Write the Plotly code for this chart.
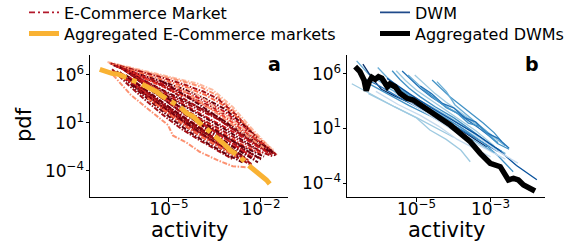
import plotly.graph_objects as go

# ---------------- data (log10 values) ----------------
# Panel a: individual E-Commerce markets (log10 activity, log10 pdf)
ecom_logx = [
    [-7.0, -6.2, -5.4, -4.6, -4.06, -3.57, -2.92, -2.26, -1.48],
    [-6.95, -6.1, -5.3, -4.5, -4.0, -3.5, -2.9, -2.3, -1.55],
    [-6.9, -6.1, -5.3, -4.5, -3.9, -3.4, -2.8, -2.2, -1.6],
    [-6.85, -6.0, -5.2, -4.4, -3.8, -3.3, -2.7, -2.1, -1.7],
    [-6.8, -6.0, -5.2, -4.4, -3.8, -3.2, -2.6, -2.0, -1.5],
    [-6.75, -5.9, -5.1, -4.3, -3.7, -3.1, -2.5, -1.9],
    [-6.7, -5.9, -5.1, -4.3, -3.6, -3.0, -2.4, -1.8, -1.5],
    [-6.65, -5.8, -5.0, -4.2, -3.5, -2.9, -2.3, -1.75],
    [-6.6, -5.8, -5.0, -4.2, -3.5, -2.8, -2.2, -1.6],
    [-6.55, -5.7, -4.9, -4.1, -3.4, -2.8, -2.2, -1.65],
    [-6.5, -5.7, -4.9, -4.1, -3.4, -2.7, -2.1, -1.7],
    [-6.45, -5.6, -4.8, -4.0, -3.3, -2.7, -2.1],
    [-6.4, -5.6, -4.8, -4.0, -3.3, -2.6, -2.0, -1.6],
    [-6.35, -5.5, -4.7, -3.9, -3.2, -2.6, -2.0],
    [-6.3, -5.5, -4.7, -3.9, -3.2, -2.5, -1.9],
    [-6.25, -5.4, -4.6, -3.8, -3.1, -2.5, -2.0],
    [-6.85, -6.3, -5.7, -5.1, -4.6, -4.0, -3.4, -2.9],
    [-6.82, -6.24, -5.68, -5.03, -4.87, -4.4, -4.0, -3.4, -2.92, -2.5],
    [-6.7, -6.1, -5.5, -4.9, -4.3, -3.7, -3.1, -2.6],
    [-6.6, -6.0, -5.4, -4.8, -4.2, -3.6, -3.0, -2.6, -2.3],
    [-6.5, -5.9, -5.3, -4.7, -4.1, -3.5, -2.9, -2.4],
    [-6.4, -5.8, -5.2, -4.6, -4.0, -3.4, -2.8],
    [-6.3, -5.7, -5.1, -4.5, -3.9, -3.3, -2.7, -2.2],
    [-5.6, -5.0, -4.4, -3.8, -3.2, -2.6, -2.0, -1.6],
    [-5.2, -4.6, -4.0, -3.4, -2.8, -2.2, -1.7],
    [-4.8, -4.3, -3.8, -3.3, -2.8, -2.3, -1.9],
    [-5.9, -5.3, -4.7, -4.1, -3.5, -2.9, -2.4],
    [-5.3, -4.7, -4.1, -3.5, -2.9, -2.4, -2.0],
    [-4.4, -3.9, -3.4, -2.9, -2.4, -1.9, -1.6],
    [-5.0, -4.5, -4.0, -3.5, -3.0, -2.6, -2.3],
    [-4.5, -4.0, -3.5, -3.0, -2.5, -2.1],
    [-6.6, -6.0, -5.4, -4.8, -4.2, -3.6, -3.0, -2.5],
    [-6.5, -5.9, -5.3, -4.7, -4.1, -3.5, -2.9, -2.4],
    [-6.4, -5.8, -5.2, -4.6, -4.0, -3.4, -2.8],
    [-6.2, -5.6, -5.0, -4.4, -3.8, -3.2, -2.7],
    [-6.0, -5.4, -4.8, -4.2, -3.6, -3.0],
    [-5.7, -5.1, -4.5, -3.9, -3.3, -2.8],
]
ecom_logy = [
    [7.35, 6.75, 6.15, 5.55, 5.1, 4.44, 2.67, 0.27, -2.33],
    [7.25, 6.6, 5.95, 5.3, 4.8, 4.0, 2.3, 0.0, -2.2],
    [7.2, 6.5, 5.8, 5.0, 4.3, 3.5, 1.8, -0.3, -2.0],
    [7.1, 6.3, 5.5, 4.7, 3.9, 3.0, 1.4, -0.5, -1.6],
    [7.0, 6.1, 5.3, 4.4, 3.5, 2.5, 0.9, -0.9, -2.5],
    [6.95, 5.95, 5.0, 4.0, 3.1, 2.0, 0.4, -1.3],
    [6.9, 5.8, 4.8, 3.7, 2.7, 1.5, 0.0, -1.5, -2.3],
    [6.85, 5.6, 4.5, 3.4, 2.3, 1.0, -0.4, -1.7],
    [6.8, 5.4, 4.1, 2.9, 1.8, 0.5, -0.8, -2.0],
    [6.7, 5.2, 3.8, 2.5, 1.4, 0.1, -1.2, -2.3],
    [6.6, 5.0, 3.6, 2.2, 1.0, -0.3, -1.5, -2.2],
    [6.5, 4.8, 3.3, 1.9, 0.6, -0.6, -1.8],
    [6.4, 4.6, 3.0, 1.5, 0.3, -1.0, -2.0, -2.5],
    [6.3, 4.4, 2.7, 1.2, -0.1, -1.3, -2.2],
    [6.2, 4.2, 2.4, 0.9, -0.4, -1.6, -2.5],
    [6.1, 4.0, 2.1, 0.6, -0.7, -1.9, -2.7],
    [6.6, 4.9, 3.2, 1.6, 0.4, -0.8, -1.9, -2.8],
    [6.0, 3.92, 2.46, 0.79, -0.3, -1.1, -2.0, -2.9, -3.5, -3.6],
    [6.4, 4.6, 3.0, 1.4, 0.0, -1.2, -2.3, -3.1],
    [6.3, 4.5, 2.9, 1.4, 0.1, -1.1, -2.2, -2.9, -3.4],
    [6.1, 4.5, 2.9, 1.5, 0.3, -0.9, -2.0, -2.9],
    [6.0, 4.4, 2.9, 1.5, 0.3, -0.9, -2.0],
    [5.8, 4.3, 2.9, 1.6, 0.4, -0.7, -1.8, -2.7],
    [5.6, 4.5, 3.3, 2.2, 1.0, -0.3, -1.5, -2.2],
    [5.3, 4.1, 2.9, 1.6, 0.3, -1.0, -2.0],
    [4.9, 3.9, 2.8, 1.7, 0.5, -0.7, -1.6],
    [5.5, 4.0, 2.6, 1.3, 0.1, -1.2, -2.3],
    [4.2, 2.8, 1.5, 0.3, -0.9, -2.0, -2.8],
    [4.6, 3.6, 2.4, 1.2, 0.0, -1.0, -1.8],
    [2.6, 1.5, 0.5, -0.6, -1.7, -2.6, -3.3],
    [2.0, 0.9, -0.2, -1.3, -2.3, -3.1],
    [6.2, 5.0, 3.6, 2.2, 0.9, -0.4, -1.6, -2.6],
    [5.9, 4.6, 3.2, 1.8, 0.5, -0.7, -1.9, -2.9],
    [5.6, 4.2, 2.7, 1.3, 0.0, -1.2, -2.4],
    [5.0, 3.6, 2.2, 0.9, -0.4, -1.6, -2.6],
    [4.5, 3.0, 1.6, 0.3, -0.9, -2.0],
    [3.6, 2.2, 0.8, -0.5, -1.6, -2.5],
]
ecom_colors = [
    "#fcbba1", "#fc9272", "#a50f15", "#fb6a4a", "#67000d", "#cb181d",
    "#a50f15", "#ef3b2c", "#67000d", "#a50f15", "#cb181d", "#67000d",
    "#a50f15", "#ef3b2c", "#67000d", "#a50f15", "#a50f15", "#fc9272",
    "#67000d", "#a50f15", "#fb6a4a", "#67000d", "#cb181d", "#a50f15",
    "#67000d", "#fc9272", "#cb181d", "#67000d", "#fcbba1", "#a50f15",
    "#67000d", "#67000d", "#a50f15", "#cb181d", "#67000d", "#a50f15",
    "#fb6a4a",
]
# Panel a: aggregated E-Commerce markets
ecom_agg_logx = [-7.25, -7.04, -6.86, -6.65, -6.49, -6.33, -6.16, -5.94, -5.73,
                 -5.40, -5.19, -4.91, -4.64, -4.42, -4.21, -3.99, -3.66, -3.45,
                 -3.23, -3.01, -2.69, -2.42, -2.14, -1.93, -1.82, -1.60]
ecom_agg_logy = [6.59, 6.36, 6.16, 6.07, 5.82, 5.66, 5.41, 5.14, 4.78,
                 4.26, 3.74, 3.22, 2.70, 2.01, 1.66, 0.97, 0.09, -0.43,
                 -1.11, -1.81, -2.51, -3.38, -4.07, -4.59, -4.94, -5.80]

# Panel b: individual DWMs
dwm_logx = [
    [-6.62, -6.3, -5.9, -5.4, -4.9, -4.4, -3.9, -3.4],
    [-6.45, -6.2, -5.95, -5.6, -5.2, -4.7, -4.1, -3.6, -3.1],
    [-6.75, -6.2, -5.6, -5.0, -4.5, -4.0],
    [-6.39, -5.8, -5.2, -4.6, -4.0, -3.5],
    [-6.48, -6.0, -5.5, -5.0, -4.5, -3.9, -3.3, -2.8],
    [-6.05, -5.8, -5.5, -5.1, -4.6, -4.1, -3.6, -3.1, -2.6],
    [-5.66, -5.45, -5.2, -4.9, -4.5, -4.0, -3.5, -3.0, -2.7],
    [-5.55, -5.3, -5.0, -4.7, -4.3, -3.9, -3.4, -2.9],
    [-5.39, -5.15, -4.9, -4.6, -4.2, -3.8, -3.3, -2.8],
    [-5.23, -5.0, -4.75, -4.45, -4.1, -3.7, -3.3, -2.9, -2.6],
    [-5.05, -4.8, -4.5, -4.2, -3.9, -3.6, -3.2, -2.8],
    [-4.58, -4.35, -4.1, -3.8, -3.5, -3.2, -2.9, -2.7],
    [-4.45, -4.2, -3.96, -3.7, -3.4, -3.1, -2.8],
    [-5.8, -5.2, -4.6, -4.0, -3.4, -2.8, -2.3, -1.75],
    [-5.9, -5.2, -4.5, -3.9, -3.3, -2.8, -2.26],
    [-5.7, -5.0, -4.4, -3.8, -3.2, -2.8, -2.39],
    [-6.3, -5.7, -5.0, -4.64, -4.2, -3.8, -3.55],
    [-6.1, -5.5, -4.9, -4.4, -3.9, -3.4, -3.0],
    [-5.6, -5.0, -4.5, -4.0, -3.5, -3.0, -2.6],
    [-5.9, -5.3, -4.7, -4.2, -3.7, -3.2, -2.9],
    [-4.9, -4.6, -4.3, -4.0, -3.7, -3.4, -3.1, -2.8, -2.5],
    [-4.8, -4.5, -4.2, -3.9, -3.6, -3.3, -3.0, -2.8, -2.5],
]
dwm_logy = [
    [7.2, 6.0, 5.1, 4.3, 3.4, 2.4, 1.3, 0.1],
    [6.9, 5.6, 4.6, 4.0, 3.4, 2.6, 1.5, 0.4, -0.7],
    [5.1, 4.1, 3.0, 2.0, 1.1, 0.2],
    [5.3, 4.2, 3.1, 2.1, 1.0, -0.1],
    [5.7, 4.9, 3.9, 3.0, 2.2, 1.1, -0.1, -1.1],
    [6.6, 5.7, 4.8, 3.9, 3.0, 2.0, 0.9, -0.3, -1.3],
    [6.3, 5.5, 4.7, 3.9, 3.0, 2.0, 0.8, -0.5, -1.1],
    [6.3, 5.4, 4.5, 3.8, 2.9, 2.0, 0.8, -0.6],
    [6.28, 5.5, 4.7, 3.9, 3.0, 2.2, 1.0, -0.3],
    [5.9, 5.2, 4.4, 3.6, 2.8, 2.1, 1.2, 0.2, -0.6],
    [5.9, 5.1, 4.2, 3.4, 2.7, 2.0, 1.0, -0.1],
    [5.45, 4.7, 3.9, 3.1, 2.3, 1.5, 0.6, -0.2],
    [5.3, 4.4, 3.16, 2.4, 1.6, 0.7, -0.4],
    [5.6, 4.2, 2.9, 1.7, 0.5, -0.9, -2.4, -3.7],
    [5.4, 4.0, 2.5, 1.3, 0.1, -1.1, -2.17],
    [5.1, 3.6, 2.3, 1.1, -0.3, -1.5, -2.96],
    [4.2, 3.2, 1.96, 0.86, 0.0, -1.0, -2.05],
    [4.4, 3.2, 2.2, 1.2, 0.0, -0.9, -1.6],
    [4.3, 3.0, 1.9, 0.8, -0.2, -1.1, -1.8],
    [5.0, 3.8, 2.6, 1.6, 0.4, -0.6, -1.2],
    [4.9, 4.2, 3.3, 2.9, 2.0, 1.6, 0.6, 0.1, -0.8],
    [4.5, 3.8, 2.9, 2.4, 1.5, 1.2, 0.2, -0.4, -0.9],
]
dwm_colors = [
    "#6baed6", "#08306b", "#9ecae1", "#4292c6", "#2171b5", "#6baed6",
    "#4292c6", "#9ecae1", "#2171b5", "#6baed6", "#9ecae1", "#4292c6",
    "#6baed6", "#08519c", "#c6dbef", "#4292c6", "#9ecae1", "#c6dbef",
    "#c6dbef", "#6baed6", "#2171b5", "#4292c6",
]
# Panel b: aggregated DWMs
dwm_agg_logx = [-6.66, -6.53, -6.42, -6.36, -6.28, -6.21, -6.12, -6.03, -5.94,
                -5.85, -5.79, -5.72, -5.58, -5.45, -5.26, -5.09, -4.91, -4.64,
                -4.36, -4.09, -3.82, -3.55, -3.28, -3.01, -2.74, -2.61, -2.52,
                -2.38, -2.25, -2.11, -1.93, -1.80]
dwm_agg_logy = [6.67, 6.21, 5.45, 4.47, 5.29, 5.70, 5.51, 5.75, 5.61,
                5.15, 4.83, 5.08, 4.83, 4.23, 3.77, 3.61, 3.16, 2.54,
                1.94, 1.32, 0.56, -0.21, -1.28, -2.19, -2.50, -3.11, -3.72,
                -3.57, -3.72, -4.18, -4.58, -4.73]

# tick labels
a_xticks = [1e-5, 1e-2]
a_xtext = ["10<sup>−5</sup>", "10<sup>−2</sup>"]
b_xticks = [1e-5, 1e-3]
b_xtext = ["10<sup>−5</sup>", "10<sup>−3</sup>"]
yticks = [1e-4, 1e1, 1e6]
ytext = ["10<sup>−4</sup>", "10<sup>1</sup>", "10<sup>6</sup>"]


def p10(vals):
    return [10 ** v for v in vals]


W, H = 586, 248
FONT = "DejaVu Sans"
RED_DASH = "5px,1.5px,1.5px,1.5px"
ORANGE = "#f9b233"

fig = go.Figure()

for lx, ly, c in zip(ecom_logx, ecom_logy, ecom_colors):
    fig.add_trace(go.Scatter(x=p10(lx), y=p10(ly), mode="lines",
                             line=dict(color=c, width=2, dash=RED_DASH),
                             showlegend=False, hoverinfo="skip",
                             xaxis="x", yaxis="y"))
fig.add_trace(go.Scatter(x=p10(ecom_agg_logx), y=p10(ecom_agg_logy), mode="lines",
                         line=dict(color=ORANGE, width=5, dash="28px,6px,5px,6px"),
                         showlegend=False, xaxis="x", yaxis="y"))

for lx, ly, c in zip(dwm_logx, dwm_logy, dwm_colors):
    fig.add_trace(go.Scatter(x=p10(lx), y=p10(ly), mode="lines",
                             line=dict(color=c, width=1.3),
                             showlegend=False, hoverinfo="skip",
                             xaxis="x2", yaxis="y2"))
fig.add_trace(go.Scatter(x=p10(dwm_agg_logx), y=p10(dwm_agg_logy), mode="lines",
                         line=dict(color="black", width=5.5),
                         showlegend=False, xaxis="x2", yaxis="y2"))

# legend entries (one legend per entry for exact placement)
leg_entries = [
    ("E-Commerce Market", dict(color="#b2182b", width=1.6, dash="6px,3px,2px,3px"), "legend", 24, 12.5),
    ("Aggregated E-Commerce markets", dict(color=ORANGE, width=5), "legend2", 24, 33.5),
    ("DWM", dict(color="#1f4a8a", width=1.6), "legend3", 375, 12.5),
    ("Aggregated DWMs", dict(color="black", width=5), "legend4", 375, 33.5),
]
legend_layout = {}
for name, ln, lg, lx0, ly0 in leg_entries:
    fig.add_trace(go.Scatter(x=[None], y=[None], mode="lines", name=name, line=ln,
                             showlegend=True, legend=lg, xaxis="x", yaxis="y"))
    legend_layout[lg] = dict(x=lx0 / W, y=1 - ly0 / H, xanchor="left", yanchor="middle",
                             bgcolor="rgba(0,0,0,0)", borderwidth=0,
                             font=dict(family=FONT, size=16, color="black"),
                             itemwidth=30)

axis_common = dict(type="log", showline=True, linecolor="black", linewidth=1,
                   ticks="outside", ticklen=3.5, tickwidth=0.8, tickcolor="black",
                   showgrid=False, zeroline=False, mirror=False,
                   tickfont=dict(family=FONT, size=17, color="black"))

ydom = [1 - 197 / H, 1 - 55 / H]
fig.update_layout(
    width=W, height=H,
    margin=dict(l=0, r=0, t=0, b=0, autoexpand=False),
    paper_bgcolor="white", plot_bgcolor="white",
    font=dict(family=FONT, color="black"),
    xaxis=dict(axis_common, domain=[90 / W, 288 / W], range=[-7.57, -1.12],
               tickvals=a_xticks, ticktext=a_xtext, anchor="y", ticklabelstandoff=-7),
    yaxis=dict(axis_common, domain=ydom, range=[-6.71, 8.08],
               tickvals=yticks, ticktext=ytext, anchor="x", ticklabelstandoff=-2),
    xaxis2=dict(axis_common, domain=[347 / W, 545 / W], range=[-6.88, -1.53],
                tickvals=b_xticks, ticktext=b_xtext, anchor="y2", ticklabelstandoff=-7),
    yaxis2=dict(axis_common, domain=ydom, range=[-5.28, 7.74],
                tickvals=yticks, ticktext=ytext, anchor="x2", ticklabelstandoff=-2),
    **legend_layout,
)

annots = [
    dict(text="pdf", x=24 / W, y=1 - 125 / H, textangle=-90, font=dict(size=21)),
    dict(text="activity", x=189 / W, y=1 - 230 / H, font=dict(size=21)),
    dict(text="activity", x=446 / W, y=1 - 230 / H, font=dict(size=21)),
    dict(text="<b>a</b>", x=274 / W, y=1 - 64 / H, font=dict(size=19)),
    dict(text="<b>b</b>", x=532 / W, y=1 - 64 / H, font=dict(size=19)),
]
for a in annots:
    a["font"].update(family=FONT, color="black")
    fig.add_annotation(xref="paper", yref="paper", showarrow=False,
                       xanchor="center", yanchor="middle", **a)

fig.write_html("out.html", config={"displayModeBar": False},
               post_script="document.body.style.margin='0';document.body.style.overflow='hidden';")
